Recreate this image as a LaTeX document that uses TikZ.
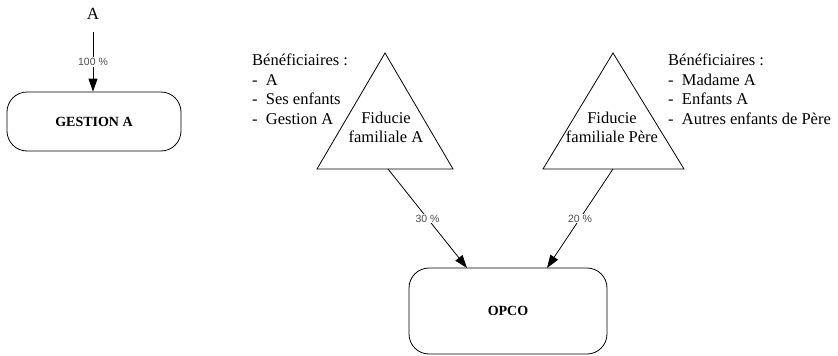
\documentclass[tikz,border=0pt]{standalone}
\usepackage{fontspec}
\setmainfont{Liberation Serif}
\newfontfamily\labelfont{Liberation Sans}
\usetikzlibrary{arrows.meta}
\begin{document}
\begin{tikzpicture}[x=1pt,y=-1pt,
  entity/.style={draw,rounded corners=20pt,line width=0.8pt,font=\fontsize{14}{16}\selectfont\bfseries},
  trust/.style={draw,line width=0.8pt,line join=miter},
  share/.style={-{Triangle[length=13pt,width=9pt]},line width=0.8pt},
  pct/.style={fill=white,inner sep=1pt,text=black!70,font=\labelfont\fontsize{10.5}{12}\selectfont},
  txt/.style={font=\fontsize{16.5}{19.5}\selectfont,align=left,inner sep=0pt,anchor=north west},
  tname/.style={font=\fontsize{16.5}{19}\selectfont,align=center,inner sep=0pt}]
\useasboundingbox (0,0) rectangle (838,356);

% holding company of A
\node[font=\fontsize{17}{19}\selectfont,inner sep=1pt] (a) at (93,14) {A};
\node[entity,minimum width=174pt,minimum height=59pt] (gestion) at (94,121.5) {GESTION A};
\coordinate (atop) at (93,32);
\draw[share] (atop) -- node[pct]{100 \%} (gestion.north -| atop);

% family trusts
\coordinate (t1a) at (385,53);
\coordinate (t1l) at (317,169);
\coordinate (t1r) at (453,169);
\draw[trust] (t1a) -- (t1l) -- (t1r) -- cycle;
\node[tname] (t1) at (386,127) {Fiducie\\familiale A};

\coordinate (t2a) at (613,53);
\coordinate (t2l) at (543,169);
\coordinate (t2r) at (684,169);
\draw[trust] (t2a) -- (t2l) -- (t2r) -- cycle;
\node[tname] (t2) at (612,127) {Fiducie\\familiale P\`ere};

% beneficiaries
\node[txt] (b1) at (252,54) {B\'en\'eficiaires :\\- \ A\\- \ Ses enfants\\- \ Gestion A};
\node[txt] (b2) at (668,54) {B\'en\'eficiaires :\\- \ Madame A\\- \ Enfants A\\- \ Autres enfants de P\`ere};

% operating company
\node[entity,minimum width=198pt,minimum height=86pt] (opco) at (508,311) {OPCO};

\coordinate (s1) at (388,169);
\coordinate (e1) at (467,268);
\coordinate (s2) at (613,169);
\coordinate (e2) at (547,268);
\draw[share] (s1) -- node[pct]{30 \%} (e1);
\draw[share] (s2) -- node[pct]{20 \%} (e2);
\end{tikzpicture}
\end{document}
